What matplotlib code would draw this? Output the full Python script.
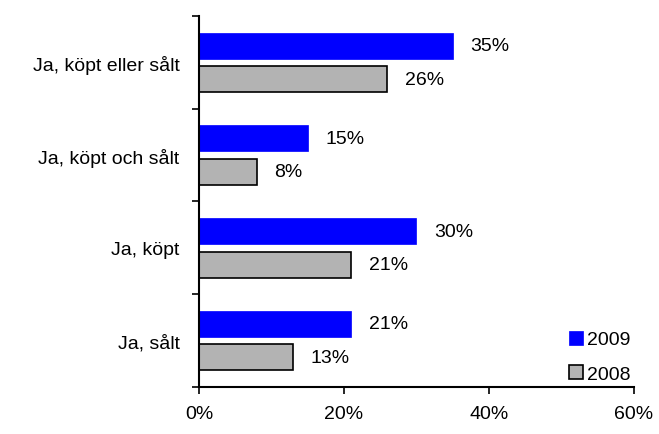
import numpy as np
import matplotlib
matplotlib.use('Agg')
import matplotlib.pyplot as plt
from matplotlib.ticker import FixedLocator

plt.rcParams['font.family'] = ['Liberation Sans', 'DejaVu Sans']

# data (top to bottom)
kategorier = ['Ja, köpt eller sålt', 'Ja, köpt och sålt', 'Ja, köpt', 'Ja, sålt']
v2009 = [35, 15, 30, 21]
v2008 = [26, 8, 21, 13]
xticks = [0, 20, 40, 60]

fig = plt.figure(figsize=(6.59, 4.35), dpi=100)
ax = fig.add_axes([0.302, 0.108, 0.66, 0.853])

n = len(kategorier)
y = np.arange(n)[::-1] + 0.5  # top group at highest y
h = 0.28
off = 0.18
fs = 14

ax.barh(y + off, v2009, height=h, color='#0000FF', edgecolor='#0000FF', linewidth=0.5, label='2009')
ax.barh(y - off, v2008, height=h, color='#B3B3B3', edgecolor='black', linewidth=1.2, label='2008')

for yi, a, b in zip(y, v2009, v2008):
    ax.text(a + 2.4, yi + off, f'{a}%', va='center', ha='left', fontsize=fs)
    ax.text(b + 2.4, yi - off, f'{b}%', va='center', ha='left', fontsize=fs)

ax.set_xlim(0, 60)
ax.set_ylim(0, n)
ax.set_xticks(xticks)
ax.set_xticklabels([f'{t}%' for t in xticks], fontsize=fs)
ax.tick_params(axis='x', direction='out', length=5, width=1.2, pad=8)

ax.set_yticks(y)
ax.set_yticklabels(kategorier, fontsize=fs)
ax.tick_params(axis='y', which='major', length=0, pad=14)
ax.yaxis.set_minor_locator(FixedLocator(np.arange(0, n + 1)))
ax.tick_params(axis='y', which='minor', direction='out', length=5, width=1.2)

for s in ['top', 'right']:
    ax.spines[s].set_visible(False)
for s in ['left', 'bottom']:
    ax.spines[s].set_linewidth(1.5)

ax.legend(loc='lower right', bbox_to_anchor=(1.015, -0.015), frameon=False, fontsize=fs,
          handlelength=0.75, handleheight=0.75, handletextpad=0.2, labelspacing=0.85,
          borderaxespad=0.1)

fig.savefig('out.png', dpi=100)
